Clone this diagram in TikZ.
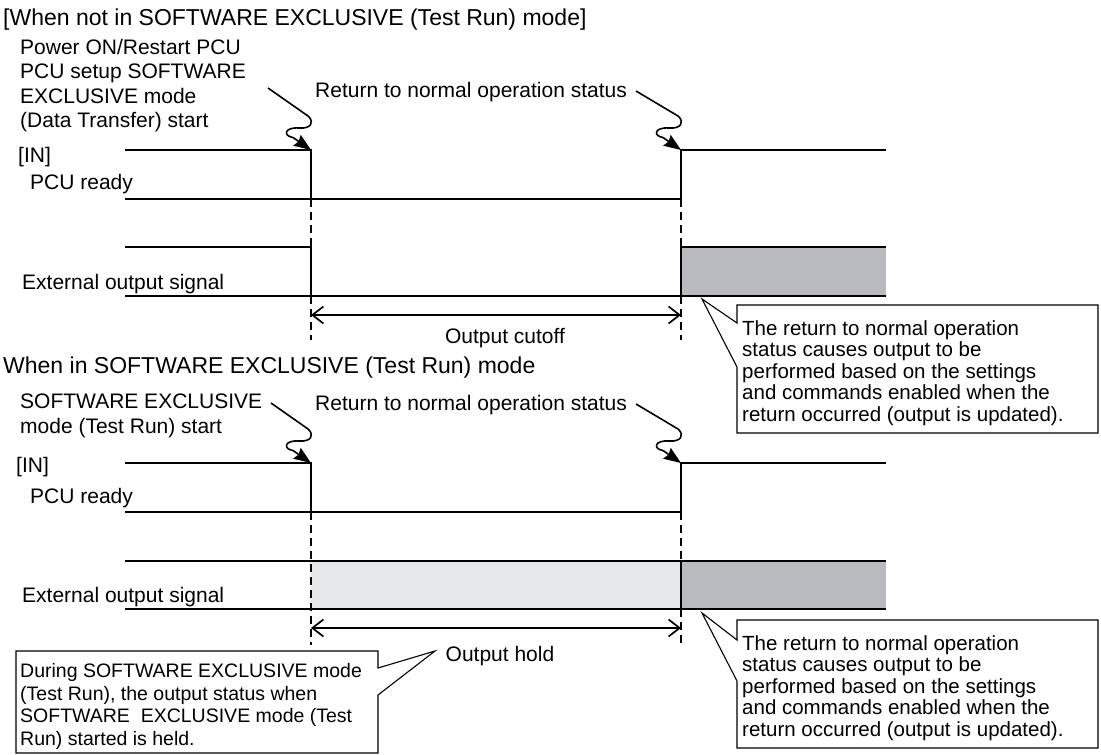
\documentclass[tikz,border=0pt]{standalone}
\usepackage{fontspec}
\setmainfont{Liberation Sans}
\usetikzlibrary{arrows.meta}
\definecolor{darkfill}{HTML}{B9BABE}
\definecolor{lightfill}{HTML}{E6E7E9}
\tikzset{
  sig/.style={line width=1.6pt},
  guide/.style={line width=1.2pt, dash pattern=on 8pt off 5pt},
  dim/.style={line width=1.7pt, {Straight Barb[length=11pt,width=17pt]}-{Straight Barb[length=11pt,width=17pt]}},
  zz/.style={line width=1.6pt},
  lbl/.style={inner sep=0pt, font=\fontsize{21}{24.3}\selectfont, align=left},
  ttl/.style={inner sep=0pt, font=\fontsize{23}{27}\selectfont},
  callout/.style={line width=1.1pt, fill=white},
  ctext/.style={inner sep=0pt, font=\fontsize{20.5}{21.6}\selectfont, align=left},
  btext/.style={inner sep=0pt, font=\fontsize{19.5}{22.7}\selectfont, align=left},
  zigzag/.pic={
    \draw[zz] (#1) -- (-3,-34) .. controls (4,-28) and (0,-21) .. (-12,-22)
      .. controls (-27,-23) and (-28,-14) .. (-18,-12.5);
    \draw[zz,-{Stealth[length=17pt,width=13pt,inset=2pt]}] (-18,-12.5) -- (0,0);
  }
}
\begin{document}
\begin{tikzpicture}[x=1pt,y=-1pt]
\useasboundingbox (0,0) rectangle (1101,755);
\fill[white] (0,0) rectangle (1101,755);

% ---------------- Section 1 ----------------
\node[ttl, anchor=base west] (title1) at (3,25) {[When not in SOFTWARE EXCLUSIVE (Test Run) mode]};
\node[lbl, anchor=north west] (start1) at (20,39) {Power ON/Restart PCU\\PCU setup SOFTWARE\\EXCLUSIVE mode\\(Data Transfer) start};
\node[lbl, anchor=base west] (ret1) at (315,97) {Return to normal operation status};
\node[lbl, anchor=base west] (in1) at (18,162) {[IN]};
\node[lbl, anchor=base west] (rdy1) at (30,189) {PCU ready};
\node[lbl, anchor=base west] (ext1) at (22,289) {External output signal};
\node[lbl, anchor=base] (cut) at (505,343) {Output cutoff};

\coordinate (t1a) at (311,150);
\coordinate (t1b) at (681,150);
\pic at (t1a) {zigzag={-43,-62}};
\pic at (t1b) {zigzag={-45,-59}};

% PCU ready signal
\draw[sig] (125,150) -- (311,150) -- (311,199);
\draw[sig] (125,199) -- (681,199) -- (681,150) -- (886,150);
% External output signal
\fill[darkfill] (681,247) rectangle (886,296);
\draw[sig] (125,247) -- (311,247) -- (311,296);
\draw[sig] (125,296) -- (886,296);
\draw[sig] (681,296) -- (681,247) -- (886,247);
% guides
\draw[guide] (311,199) -- (311,247);
\draw[guide] (311,296) -- (311,340);
\draw[guide] (681,199) -- (681,247);
\draw[guide] (681,296) -- (681,340);
\coordinate (a1l) at (311,315);
\coordinate (a1r) at (681,315);
\draw[dim] (a1l) -- (a1r);

% callout 1
\draw[callout] (737,305) -- (1098,305) -- (1098,433) -- (737,433) -- (737,367) -- (702,299) -- (737,323) -- cycle;
\node[ctext, anchor=north west] (note1) at (742,320) {The return to normal operation\\status causes output to be\\performed based on the settings\\and commands enabled when the\\return occurred (output is updated).};

% ---------------- Section 2 ----------------
\node[ttl, anchor=base west] (title2) at (3,373) {When in SOFTWARE EXCLUSIVE (Test Run) mode};
\node[lbl, anchor=north west] (start2) at (20,394) {SOFTWARE EXCLUSIVE\\mode (Test Run) start};
\node[lbl, anchor=base west] (ret2) at (315,410) {Return to normal operation status};
\node[lbl, anchor=base west] (in2) at (16,472) {[IN]};
\node[lbl, anchor=base west] (rdy2) at (30,503) {PCU ready};
\node[lbl, anchor=base west] (ext2) at (22,602) {External output signal};
\node[lbl, anchor=base] (hold) at (500,661) {Output hold};

\coordinate (t2a) at (311,463);
\coordinate (t2b) at (681,463);
\pic at (t2a) {zigzag={-40,-60}};
\pic at (t2b) {zigzag={-45,-59}};

\draw[sig] (125,463) -- (311,463) -- (311,512);
\draw[sig] (125,512) -- (681,512) -- (681,463) -- (886,463);
\fill[lightfill] (311,561) rectangle (681,609);
\fill[darkfill] (681,561) rectangle (886,609);
\draw[sig] (125,561) -- (886,561);
\draw[sig] (125,609) -- (886,609);
\draw[sig] (681,561) -- (681,609);
\draw[guide] (311,512) -- (311,645);
\draw[guide] (681,512) -- (681,561);
\draw[guide] (681,609) -- (681,645);
\coordinate (a2l) at (311,628);
\coordinate (a2r) at (681,628);
\draw[dim] (a2l) -- (a2r);

% callout 2
\draw[callout] (737,620) -- (1098,620) -- (1098,748) -- (737,748) -- (737,681) -- (702,613) -- (737,640) -- cycle;
\node[ctext, anchor=north west] (note2) at (742,635) {The return to normal operation\\status causes output to be\\performed based on the settings\\and commands enabled when the\\return occurred (output is updated).};

% callout 3
\draw[callout] (16,651) -- (378,651) -- (378,668) -- (435,651) -- (378,695) -- (378,753) -- (16,753) -- cycle;
\node[btext, anchor=north west] (note3) at (20,663) {During SOFTWARE EXCLUSIVE mode\\(Test Run), the output status when\\SOFTWARE\ \ EXCLUSIVE mode (Test\\Run) started is held.};
\end{tikzpicture}
\end{document}
